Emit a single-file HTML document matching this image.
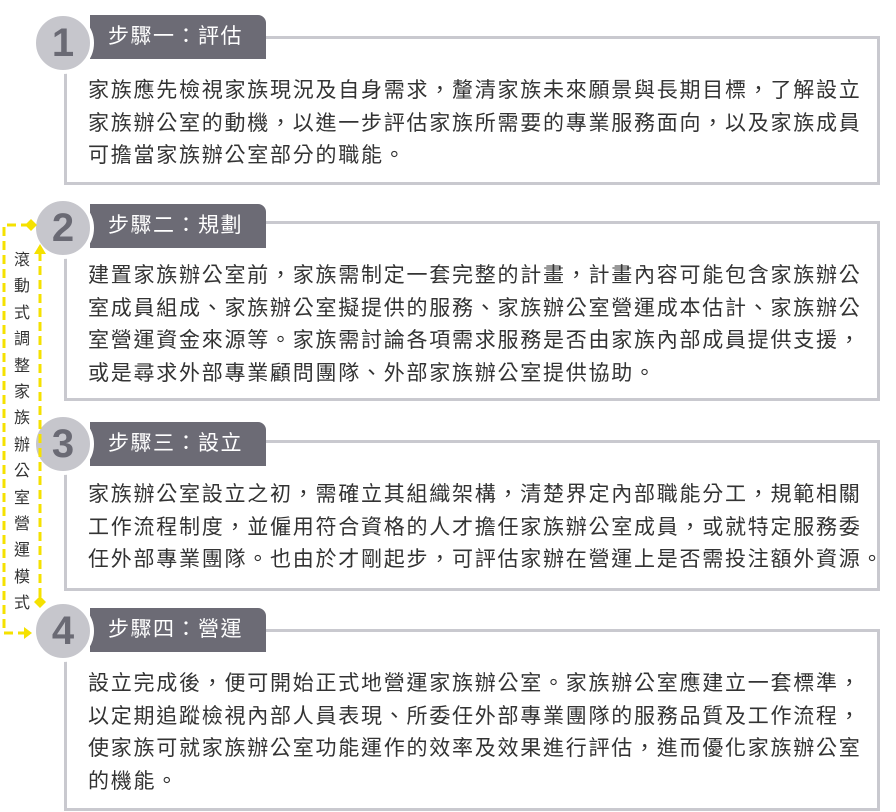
<!DOCTYPE html>
<html><head><meta charset="utf-8"><style>
*{margin:0;padding:0;box-sizing:border-box}
body{width:896px;height:812px;background:#fff;position:relative;overflow:hidden;font-family:"Liberation Sans","Noto Sans CJK TC",sans-serif}
.box{position:absolute;left:64px;width:816px;border:3px solid #c9c9cf;background:#fff}
.tab{position:absolute;left:90px;width:176px;height:44px;background:#6c6b75;border-radius:0 8px 0 0;color:#fff;font-size:21px;line-height:44px;padding-left:18px;letter-spacing:1.5px}
.circ{position:absolute;left:32px;width:62px;height:62px;border-radius:50%;background:#c6c6cc;border:4px solid #fff;color:#6a6a74;font-size:40px;font-weight:bold;text-align:center;line-height:54px;box-sizing:border-box}
.txt{position:absolute;left:88px;font-size:21px;letter-spacing:1.75px;line-height:32.7px;color:#333;white-space:nowrap}
.v{position:absolute;left:13px;top:248px;width:18px;font-size:16px;line-height:26.4px;color:#333;text-align:center}
</style></head><body>
<div class="box" style="top:36px;height:149px"></div>
<div class="box" style="top:221px;height:180px"></div>
<div class="box" style="top:440px;height:151px"></div>
<div class="box" style="top:629px;height:182px"></div>

<div class="tab" style="top:15px">步驟一：評估</div>
<div class="tab" style="top:204px">步驟二：規劃</div>
<div class="tab" style="top:422px">步驟三：設立</div>
<div class="tab" style="top:608px">步驟四：營運</div>

<div class="circ" style="top:12px">1</div>
<div class="circ" style="top:197px">2</div>
<div class="circ" style="top:413px">3</div>
<div class="circ" style="top:600px">4</div>

<div class="txt" style="top:75px">家族應先檢視家族現況及自身需求，釐清家族未來願景與長期目標，了解設立<br>家族辦公室的動機，以進一步評估家族所需要的專業服務面向，以及家族成員<br>可擔當家族辦公室部分的職能。</div>
<div class="txt" style="top:260px">建置家族辦公室前，家族需制定一套完整的計畫，計畫內容可能包含家族辦公<br>室成員組成、家族辦公室擬提供的服務、家族辦公室營運成本估計、家族辦公<br>室營運資金來源等。家族需討論各項需求服務是否由家族內部成員提供支援，<br>或是尋求外部專業顧問團隊、外部家族辦公室提供協助。</div>
<div class="txt" style="top:479px">家族辦公室設立之初，需確立其組織架構，清楚界定內部職能分工，規範相關<br>工作流程制度，並僱用符合資格的人才擔任家族辦公室成員，或就特定服務委<br>任外部專業團隊。也由於才剛起步，可評估家辦在營運上是否需投注額外資源。</div>
<div class="txt" style="top:668px">設立完成後，便可開始正式地營運家族辦公室。家族辦公室應建立一套標準，<br>以定期追蹤檢視內部人員表現、所委任外部專業團隊的服務品質及工作流程，<br>使家族可就家族辦公室功能運作的效率及效果進行評估，進而優化家族辦公室<br>的機能。</div>

<svg style="position:absolute;left:0;top:0" width="60" height="812">
<g stroke="#f5e100" stroke-width="3" fill="none" stroke-dasharray="9 5">
<path d="M30 225 H4 V633 H24"/>
<path d="M40 252 V600"/>
</g>
<g fill="#f5e100">
<polygon points="26,227 32,221 38,227 32,233" transform="translate(-1,-2)"/>
<polygon points="24,627 32,633 24,639"/>
<polygon points="34,254 40,244 46,254"/>
<polygon points="34,602 40,596 46,602 40,608"/>
</g>
</svg>
<div class="v">滾<br>動<br>式<br>調<br>整<br>家<br>族<br>辦<br>公<br>室<br>營<br>運<br>模<br>式</div>
</body></html>
